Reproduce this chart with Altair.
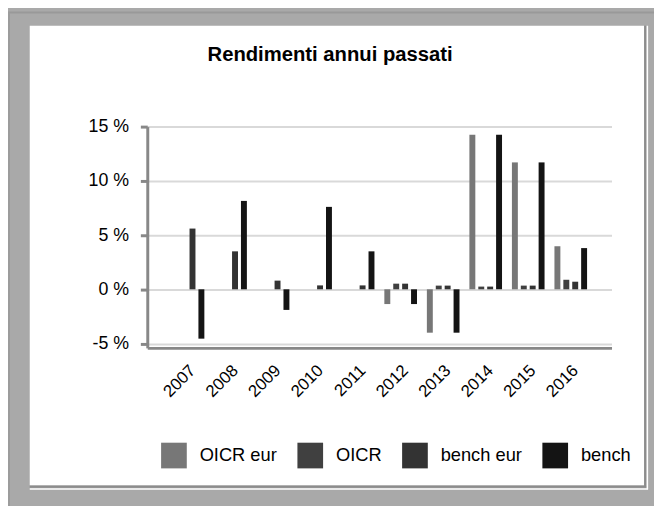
import altair as alt
import pandas as pd

years = ["2007", "2008", "2009", "2010", "2011", "2012", "2013", "2014", "2015", "2016"]
series = ["OICR eur", "OICR", "bench eur", "bench"]
oicr_eur = [None, None, None, None, None, -1.36, -4.0, 14.25, 11.7, 3.97]
oicr = [None, None, None, None, None, 0.52, 0.34, 0.25, 0.34, 0.88]
bench_eur = [5.6, 3.5, 0.8, 0.36, 0.36, 0.52, 0.34, 0.25, 0.34, 0.7]
bench = [-4.55, 8.15, -1.9, 7.6, 3.5, -1.36, -4.0, 14.25, 11.7, 3.8]
colors = ["#777777", "#404040", "#333333", "#141414"]
y_ticks = [-5, 0, 5, 10, 15]
title_text = "Rendimenti annui passati"

rows = []
for name, vals in zip(series, [oicr_eur, oicr, bench_eur, bench]):
    for yr, v in zip(years, vals):
        rows.append({"year": yr, "series": name, "value": v})
df = pd.DataFrame(rows)

FONT = "Liberation Sans"
one = pd.DataFrame({"k": [0]})

frame = alt.Chart(one).mark_rect(
    fillOpacity=0, stroke="#a9a9a9", strokeWidth=40
).encode(
    x=alt.value(-139), x2=alt.value(523), y=alt.value(-122), y2=alt.value(383)
)

edge_right_dark = alt.Chart(one).mark_rule(color="#8c8c8c", strokeWidth=2).encode(
    x=alt.value(504), y=alt.value(-102), y2=alt.value(365)
)
edge_right_light = alt.Chart(one).mark_rule(color="#ffffff", strokeWidth=1.5).encode(
    x=alt.value(506.3), y=alt.value(-102), y2=alt.value(367)
)
edge_bottom_dark = alt.Chart(one).mark_rule(color="#8c8c8c", strokeWidth=2).encode(
    y=alt.value(364.5), x=alt.value(-119), x2=alt.value(505)
)
edge_bottom_light = alt.Chart(one).mark_rule(color="#ffffff", strokeWidth=1.5).encode(
    y=alt.value(366.8), x=alt.value(-119), x2=alt.value(507)
)
edge_top_outer = alt.Chart(one).mark_rule(color="#999999", strokeWidth=2).encode(
    y=alt.value(-115.5), x=alt.value(-141), x2=alt.value(520)
)
edge_left_outer = alt.Chart(one).mark_rule(color="#9c9c9c", strokeWidth=2).encode(
    x=alt.value(-140), y=alt.value(-116), y2=alt.value(390)
)

title = alt.Chart(one).mark_text(
    align="left", baseline="alphabetic", fontSize=20.5, fontWeight="bold",
    font=FONT, color="#000000"
).encode(x=alt.value(61), y=alt.value(-66.5), text=alt.value(title_text))

bars = alt.Chart(df).mark_bar().encode(
    x=alt.X(
        "year:N", sort=years,
        scale=alt.Scale(paddingInner=0.2326, paddingOuter=0.575),
        axis=alt.Axis(
            title=None, labelAngle=315, labelAlign="right", labelBaseline="middle",
            labelFontSize=17, labelPadding=20, ticks=False, domainColor="#888888",
            domainWidth=3, grid=False, labelColor="#000000", labelOffset=5,
        ),
    ),
    xOffset=alt.XOffset("series:N", sort=series,
                        scale=alt.Scale(paddingInner=1 / 3, paddingOuter=0)),
    y=alt.Y(
        "value:Q",
        scale=alt.Scale(domain=[-5.4, 15], nice=False, zero=False),
        axis=alt.Axis(
            values=y_ticks, labelExpr="datum.value + ' %'", title=None,
            gridColor="#d9d9d9", gridWidth=2, tickColor="#888888", tickWidth=3,
            tickSize=7, domainColor="#888888", domainWidth=3, labelFontSize=18,
            labelPadding=12, labelColor="#000000",
        ),
    ),
    color=alt.Color(
        "series:N", sort=series,
        scale=alt.Scale(domain=series, range=colors),
        legend=alt.Legend(
            orient="none", legendX=14, legendY=320, direction="horizontal",
            columns=4, symbolType="square", symbolSize=676, symbolStrokeWidth=0,
            labelFontSize=18.5, labelOffset=13, columnPadding=20, title=None,
            padding=0, labelColor="#000000", symbolOpacity=1,
        ),
    ),
)

chart = alt.layer(
    frame, edge_right_dark, edge_right_light, edge_bottom_dark, edge_bottom_light,
    edge_top_outer, edge_left_outer, title, bars
).properties(
    width=470,
    height=224,
    autosize="none",
    padding={"left": 141, "top": 117, "right": 43, "bottom": 157},
    background="#ffffff",
).configure(font=FONT).configure_view(stroke=None).configure_axis(
    labelFont=FONT
).configure_legend(labelFont=FONT)

chart.save("out.html", embed_options={"renderer": "svg", "actions": False})
